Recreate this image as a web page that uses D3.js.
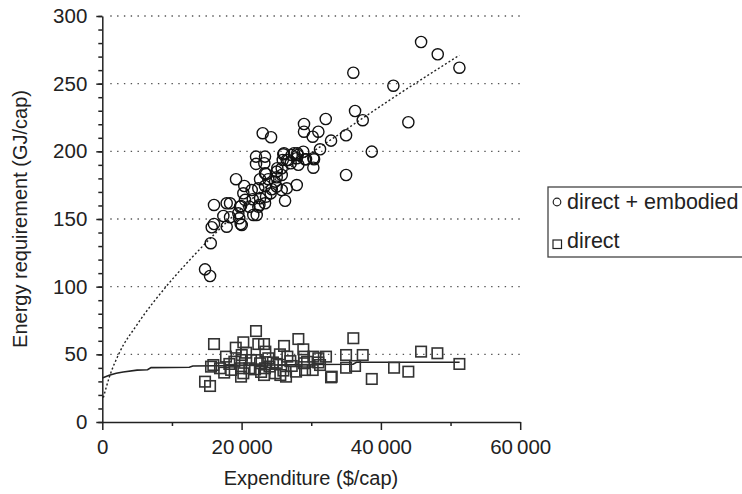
<!DOCTYPE html>
<html>
<head>
<meta charset="utf-8">
<script src="https://cdnjs.cloudflare.com/ajax/libs/d3/7.8.5/d3.min.js"></script>
<style>
  body { margin: 0; background: #fff; }
  svg text { font-family: "Liberation Sans", Arial, sans-serif; fill: #222; }
</style>
</head>
<body>
<div id="chart"></div>
<script>
// data: [expenditure $/cap, energy GJ/cap]
var embodied = [
  [45770, 280.8], [48160, 271.7], [51270, 261.8], [36040, 258.1], [41790, 248.5],
  [43940, 221.5], [36290, 229.8], [37390, 223.0], [38690, 199.8], [35000, 211.9],
  [35000, 182.5], [32840, 207.9], [32080, 223.9], [31260, 201.5], [31020, 214.5],
  [30210, 210.8], [30300, 187.9], [28960, 220.2], [28960, 214.5], [28860, 199.7],
  [30300, 194.9], [29250, 194.1], [28150, 190.1], [28060, 197.3], [27200, 197.3],
  [27050, 191.2], [25990, 197.8], [26480, 193.6], [25760, 187.5], [23030, 213.4],
  [24230, 210.4], [23360, 196.1], [23260, 191.2], [23360, 183.8], [25040, 185.0],
  [22070, 196.1], [22070, 190.7], [19200, 179.4], [22650, 179.4], [23840, 179.4],
  [25040, 180.8], [23510, 183.3], [25760, 182.5], [25040, 173.9], [26480, 172.7],
  [27920, 175.1], [20390, 174.4], [21450, 171.4], [22400, 172.7], [23360, 174.4],
  [24330, 172.0], [25760, 171.4], [20490, 164.1], [21600, 164.6], [22650, 165.3],
  [23510, 166.5], [23360, 161.6], [24180, 169.0], [26240, 163.5], [19770, 159.1],
  [21110, 159.1], [22400, 159.1], [17860, 161.6], [18340, 161.6], [16040, 160.4],
  [19530, 154.2], [21680, 153.0], [17380, 152.2], [18340, 151.3], [16040, 146.3],
  [15710, 143.9], [17860, 144.3], [19670, 150.5], [20020, 145.6], [15570, 132.1],
  [14750, 112.8], [15470, 107.9], [19920, 159.6], [22550, 160.4], [19870, 146.3],
  [22170, 153.0], [26090, 198.6], [28000, 198.6], [25910, 193.6], [29110, 194.1],
  [30400, 194.1], [25130, 187.5], [24800, 177.6], [20250, 169.0], [27530, 198.6],
  [26710, 193.6], [27920, 194.9]
];
var direct = [
  [22070, 67.2], [16040, 57.6], [20250, 58.9], [19160, 54.9], [22400, 57.6],
  [23220, 57.6], [26090, 56.2], [28150, 61.3], [28860, 53.7], [17760, 48.3],
  [20640, 51.2], [23410, 52.0], [26570, 48.3], [28960, 48.3], [30300, 48.3],
  [32120, 48.3], [15940, 42.1], [18240, 42.9], [19920, 39.7], [21350, 45.8],
  [22650, 43.4], [25040, 42.9], [27200, 41.4], [28960, 43.4], [31020, 47.1],
  [31260, 42.1], [30210, 38.4], [15610, 40.9], [16900, 39.7], [19920, 33.5],
  [21110, 39.7], [23360, 39.7], [23220, 34.7], [25560, 34.7], [26380, 33.5],
  [27820, 37.2], [32940, 33.5], [14750, 29.8], [15470, 26.6], [18960, 44.6],
  [23840, 47.1], [20020, 45.8], [22170, 45.8], [20020, 49.5], [29110, 38.4],
  [21930, 38.9], [20250, 36.0], [36040, 61.9], [45770, 52.0], [48110, 50.8],
  [51270, 42.9], [41890, 40.1], [43940, 37.2], [38690, 31.8], [32840, 33.0],
  [35000, 49.5], [37390, 49.5], [35000, 40.1], [36290, 41.4], [31020, 44.0],
  [29400, 44.5], [24500, 44.0], [26000, 38.0], [17500, 36.5], [22800, 37.0],
  [24000, 41.0], [27000, 45.0], [18500, 38.5], [25500, 50.0], [24800, 36.0]
];
// trend lines
var embodiedTrend = [
  [150, 18], [1000, 33], [2440, 51], [5000, 72], [9480, 102], [12600, 120],
  [20000, 158], [27000, 188], [34100, 213], [41300, 238], [51260, 271]
];
var directTrend = [
  [0, 32.5], [1000, 34.5], [2000, 36], [3000, 37], [5000, 38.3], [6500, 38.6],
  [7000, 40.2], [12500, 40.4], [13000, 41.4], [20000, 41.8], [30000, 42.5],
  [36000, 42.7], [36500, 44.1], [51300, 44.1]
];
var yGridValues = [50, 100, 150, 200, 250, 300];
var legendLabels = ["direct + embodied", "direct"];

var width = 742, height = 494;
var margin = { top: 16, left: 102.3, right: 221.8, bottom: 72 };
var chartWidth = width - margin.left - margin.right;
var chartHeight = height - margin.top - margin.bottom;

var svg = d3.select("#chart").append("svg")
  .attr("width", width)
  .attr("height", height);

var chartGroup = svg.append("g")
  .attr("transform", `translate(${margin.left}, ${margin.top})`);

var xScale = d3.scaleLinear().domain([0, 60000]).range([0, chartWidth]);
var yScale = d3.scaleLinear().domain([0, 300]).range([chartHeight, 0]);

// dotted gridlines
chartGroup.selectAll(".grid")
  .data(yGridValues)
  .enter()
  .append("line")
  .attr("x1", 8)
  .attr("x2", chartWidth)
  .attr("y1", d => yScale(d))
  .attr("y2", d => yScale(d))
  .attr("stroke", "#555")
  .attr("stroke-width", 1.4)
  .attr("stroke-dasharray", "1.4,5.4");

// x axis: minor then major ticks
var fmt = d => d3.format(",")(d).replace(/,/g, "\u2009");
chartGroup.append("g")
  .attr("transform", `translate(0, ${chartHeight})`)
  .call(d3.axisBottom(xScale).tickValues([10000, 30000, 50000]).tickSize(4).tickFormat(""))
  .call(g => g.select(".domain").remove());
chartGroup.append("g")
  .attr("transform", `translate(0, ${chartHeight})`)
  .call(d3.axisBottom(xScale).tickValues([0, 20000, 40000, 60000]).tickSize(8).tickSizeOuter(0).tickPadding(9).tickFormat(fmt));

// y axis
chartGroup.append("g")
  .call(d3.axisLeft(yScale).tickValues(d3.range(0, 301, 10)).tickSize(4).tickFormat(""))
  .call(g => g.select(".domain").remove());
chartGroup.append("g")
  .call(d3.axisLeft(yScale).tickValues([0, 50, 100, 150, 200, 250, 300]).tickSize(6).tickSizeOuter(0).tickPadding(9));

chartGroup.selectAll(".domain, .tick line")
  .attr("stroke", "#222")
  .attr("stroke-width", 1.5);
chartGroup.selectAll(".tick text")
  .attr("font-size", 20.5)
  .attr("fill", "#222");

// trend lines
chartGroup.append("path")
  .datum(embodiedTrend)
  .attr("d", d3.line().x(d => xScale(d[0])).y(d => yScale(d[1])).curve(d3.curveMonotoneX))
  .attr("fill", "none")
  .attr("stroke", "#222")
  .attr("stroke-width", 1.4)
  .attr("stroke-dasharray", "2,2.2");
chartGroup.append("path")
  .datum(directTrend)
  .attr("d", d3.line().x(d => xScale(d[0])).y(d => yScale(d[1])))
  .attr("fill", "none")
  .attr("stroke", "#222")
  .attr("stroke-width", 1.6);

// markers
chartGroup.selectAll(".circ")
  .data(embodied)
  .enter()
  .append("circle")
  .attr("cx", d => xScale(d[0]))
  .attr("cy", d => yScale(d[1]))
  .attr("r", 5.6)
  .attr("fill", "none")
  .attr("stroke", "#111")
  .attr("stroke-width", 1.4);

var sq = 10.5;
chartGroup.selectAll(".sq")
  .data(direct)
  .enter()
  .append("rect")
  .attr("x", d => xScale(d[0]) - sq / 2)
  .attr("y", d => yScale(d[1]) - sq / 2)
  .attr("width", sq)
  .attr("height", sq)
  .attr("fill", "none")
  .attr("stroke", "#333")
  .attr("stroke-width", 1.6);

// axis titles
svg.append("text")
  .attr("x", 311)
  .attr("y", 485)
  .attr("text-anchor", "middle")
  .attr("font-size", 20)
  .text("Expenditure ($/cap)");
svg.append("text")
  .attr("transform", "translate(27, 219) rotate(-90)")
  .attr("text-anchor", "middle")
  .attr("font-size", 20)
  .text("Energy requirement (GJ/cap)");

// legend
var legend = svg.append("g");
legend.append("rect")
  .attr("x", 548)
  .attr("y", 187)
  .attr("width", 260)
  .attr("height", 70)
  .attr("fill", "none")
  .attr("stroke", "#444")
  .attr("stroke-width", 1.3);
legend.append("circle")
  .attr("cx", 557)
  .attr("cy", 202)
  .attr("r", 3.8)
  .attr("fill", "none")
  .attr("stroke", "#222")
  .attr("stroke-width", 1.2);
legend.append("rect")
  .attr("x", 553)
  .attr("y", 240)
  .attr("width", 8.5)
  .attr("height", 8.5)
  .attr("fill", "none")
  .attr("stroke", "#222")
  .attr("stroke-width", 1.2);
legend.selectAll(".lt")
  .data(legendLabels)
  .enter()
  .append("text")
  .attr("x", 567)
  .attr("y", (d, i) => i === 0 ? 209 : 248)
  .attr("font-size", 21.5)
  .text(d => d);
</script>
</body>
</html>
